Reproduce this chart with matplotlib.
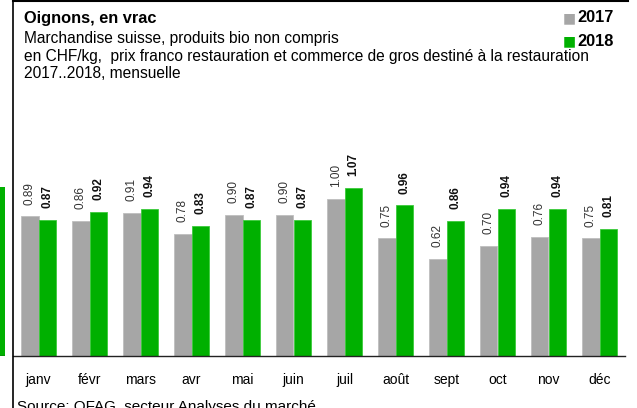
import matplotlib.pyplot as plt
import numpy as np
from matplotlib.lines import Line2D

plt.rcParams['font.family'] = ['Liberation Sans', 'DejaVu Sans']

# Données : prix mensuels (CHF/kg)
mois = ["janv", "févr", "mars", "avr", "mai", "juin",
        "juil", "août", "sept", "oct", "nov", "déc"]
prix_2017 = [0.89, 0.86, 0.91, 0.78, 0.90, 0.90, 1.00, 0.75, 0.62, 0.70, 0.76, 0.75]
prix_2018 = [0.87, 0.92, 0.94, 0.83, 0.87, 0.87, 1.07, 0.96, 0.86, 0.94, 0.94, 0.81]
# morceau du graphique voisin, coupé à gauche
voisin = [1.08]

gris = "#A6A6A6"
vert = "#00B000"

fig = plt.figure(figsize=(6.37, 4.08), dpi=100)
ax = fig.add_axes([13 / 637, 52 / 408, 612 / 637, 251 / 408])

x = np.arange(len(mois))
w = 0.35
ax.bar(x - w / 2, prix_2017, w, color=gris, edgecolor="#BEBEBE", linewidth=0.6)
ax.bar(x + w / 2, prix_2018, w, color=vert, edgecolor="#3CCB3C", linewidth=0.6)

# Etiquettes des valeurs
for xi, v in zip(x - w / 2, prix_2017):
    ax.annotate(f"{v:.2f}", (xi, v), xytext=(0, 8.5), textcoords="offset points",
                rotation=90, ha="center", va="bottom", fontsize=8.5, color="#333333")
for xi, v in zip(x + w / 2, prix_2018):
    ax.annotate(f"{v:.2f}", (xi, v), xytext=(0, 8.5), textcoords="offset points",
                rotation=90, ha="center", va="bottom", fontsize=8.5, fontweight="bold",
                color="#111111")

ax.set_xlim(-0.5, 11.5)
ax.set_ylim(0, 1.6)
ax.set_xticks(x)
ax.set_xticklabels(mois, fontsize=10)
ax.tick_params(axis="x", length=0, pad=12)
ax.set_yticks([])
for s in ["top", "left", "right"]:
    ax.spines[s].set_visible(False)
ax.spines["bottom"].set_linewidth(1.0)
ax.spines["bottom"].set_color("#222222")

# Graphique voisin (coupé)
ax2 = fig.add_axes([-2 / 637, 52 / 408, 7 / 637, 251 / 408])
ax2.bar([0], voisin, 0.8, color=vert)
ax2.set_xlim(-0.5, 0.3)
ax2.set_ylim(0, 1.6)
ax2.axis("off")
ax2.axhline(0, color="#222222", lw=1.0)

# Cadre
fig.add_artist(Line2D([12.5 / 637, 12.5 / 637], [0, 1], color="black", lw=1.2))
fig.add_artist(Line2D([12.5 / 637, 628 / 637], [1 - 0.8 / 408, 1 - 0.8 / 408],
                      color="black", lw=1.5))

# Titres
fig.text(24 / 637, 1 - 18 / 408, "Oignons, en vrac", fontsize=11.8, fontweight="bold",
         va="center", ha="left")
fig.text(24 / 637, 1 - 39 / 408, "Marchandise suisse, produits bio non compris",
         fontsize=11.2, va="center", ha="left")
fig.text(24 / 637, 1 - 56.5 / 408,
         "en CHF/kg,  prix franco restauration et commerce de gros destiné à la restauration",
         fontsize=11.2, va="center", ha="left")
fig.text(24 / 637, 1 - 74 / 408, "2017..2018, mensuelle", fontsize=11.2, va="center", ha="left")

# Légende
fig.text(569 / 637, 1 - 18 / 408, "■", color=gris, fontsize=10, va="center", ha="center",
         family=["DejaVu Sans"])
fig.text(577 / 637, 1 - 18 / 408, "2017", fontsize=11.8, fontweight="bold", va="center")
fig.text(569 / 637, 1 - 41 / 408, "■", color=vert, fontsize=10, va="center", ha="center",
         family=["DejaVu Sans"])
fig.text(577 / 637, 1 - 41 / 408, "2018", fontsize=11.8, fontweight="bold", va="center")

fig.text(17 / 637, 1 - 407 / 408, "Source: OFAG, secteur Analyses du marché",
         fontsize=11, va="center", ha="left")

fig.savefig("out.png", dpi=100)
